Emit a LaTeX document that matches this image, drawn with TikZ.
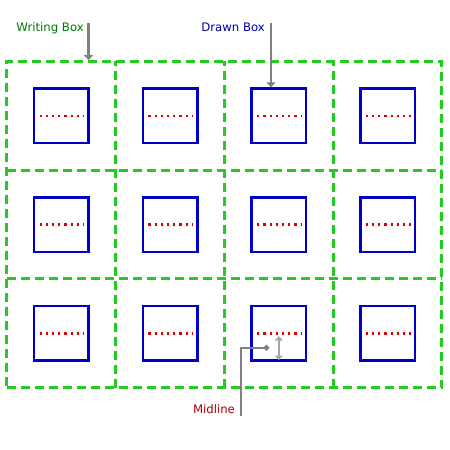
\documentclass[tikz,border=0pt]{standalone}
\usepackage{fontspec}
\setmainfont{DejaVu Sans}
\usepackage{tikz}
\usetikzlibrary{arrows.meta}
\definecolor{gridgreen}{RGB}{34,204,34}
\definecolor{boxblue}{RGB}{0,0,200}
\definecolor{dotred}{RGB}{220,0,0}
\definecolor{labelgreen}{RGB}{0,120,0}
\definecolor{labelblue}{RGB}{0,0,170}
\definecolor{labelred}{RGB}{170,0,0}
\tikzset{writingbox/.style={gridgreen, line width=3pt, dash pattern=on 9pt off 5pt},
         drawnbox/.style={boxblue, line width=2.5pt},
         midline/.style={dotred, line width=2.5pt, dash pattern=on 2.2pt off 4pt},
         pointer/.style={gray, line width=2.3pt, -{Triangle[length=5pt,width=9pt]}},
         label/.style={inner sep=0pt, font=\fontsize{11.7}{13}\selectfont}}

\begin{document}
\begin{tikzpicture}[scale=0.9555]
        \useasboundingbox (-0.257,-2.29) rectangle (16.294,14.262);

        % Writing boxes
        \draw[writingbox] (0,0) -- (16,0) -- (16,12) -- (0,12) -- cycle;
        \draw[writingbox] (4,0) -- (4,12);
        \draw[writingbox] (8,0) -- (8,12);
        \draw[writingbox] (12,0) -- (12,12);
        \draw[writingbox] (0,4) -- (16,4);
        \draw[writingbox] (0,8) -- (16,8);

        % Drawn boxes
        \draw[drawnbox] (1,9) rectangle (3,11);
        \draw[drawnbox] (5,9) rectangle (7,11);
        \draw[drawnbox] (9,9) rectangle (11,11);
        \draw[drawnbox] (13,9) rectangle (15,11);

        \draw[drawnbox] (1,5) rectangle (3,7);
        \draw[drawnbox] (5,5) rectangle (7,7);
        \draw[drawnbox] (9,5) rectangle (11,7);
        \draw[drawnbox] (13,5) rectangle (15,7);

        \draw[drawnbox] (1,1) rectangle (3,3);
        \draw[drawnbox] (5,1) rectangle (7,3);
        \draw[drawnbox] (9,1) rectangle (11,3);
        \draw[drawnbox] (13,1) rectangle (15,3);

        % Midlines
        \draw[midline] (1.2,10) -- (2.85,10);
        \draw[midline] (5.2,10) -- (6.85,10);
        \draw[midline] (9.2,10) -- (10.85,10);
        \draw[midline] (13.2,10) -- (14.85,10);

        \draw[midline] (1.2,6) -- (2.85,6);
        \draw[midline] (5.2,6) -- (6.85,6);
        \draw[midline] (9.2,6) -- (10.85,6);
        \draw[midline] (13.2,6) -- (14.85,6);

        \draw[midline] (1.2,2) -- (2.85,2);
        \draw[midline] (5.2,2) -- (6.85,2);
        \draw[midline] (9.2,2) -- (10.85,2);
        \draw[midline] (13.2,2) -- (14.85,2);

        % Labels
        \node[label, labelgreen, anchor=base east] (writing) at (2.83,13.12) {Writing Box};
        \node[label, labelblue, anchor=base east] (drawn) at (9.49,13.12) {Drawn Box};
        \node[label, labelred, anchor=base east] (mid) at (8.39,-0.93) {Midline};

        \coordinate (writingtop) at (3.0,13.42);
        \coordinate (writingtip) at (3.0,12.05);
        \coordinate (drawntop) at (9.71,13.42);
        \coordinate (drawntip) at (9.71,11.05);
        \coordinate (midfoot) at (8.61,-1.04);
        \coordinate (middot) at (9.64,1.47);
        \coordinate (gaptop) at (10.0,1.9);
        \coordinate (gapbot) at (10.0,1.02);

        % Pointers
        \draw[pointer] (writingtop) -- (writingtip);
        \draw[pointer] (drawntop) -- (drawntip);
        \draw[gray, line width=2.3pt, -{Circle[length=5.5pt]}] (midfoot) |- (middot);
        \draw[gray!70, line width=1.8pt, {Triangle[length=4.5pt,width=8pt]}-{Triangle[length=4.5pt,width=8pt]}] (gaptop) -- (gapbot);
    \end{tikzpicture}
\end{document}
